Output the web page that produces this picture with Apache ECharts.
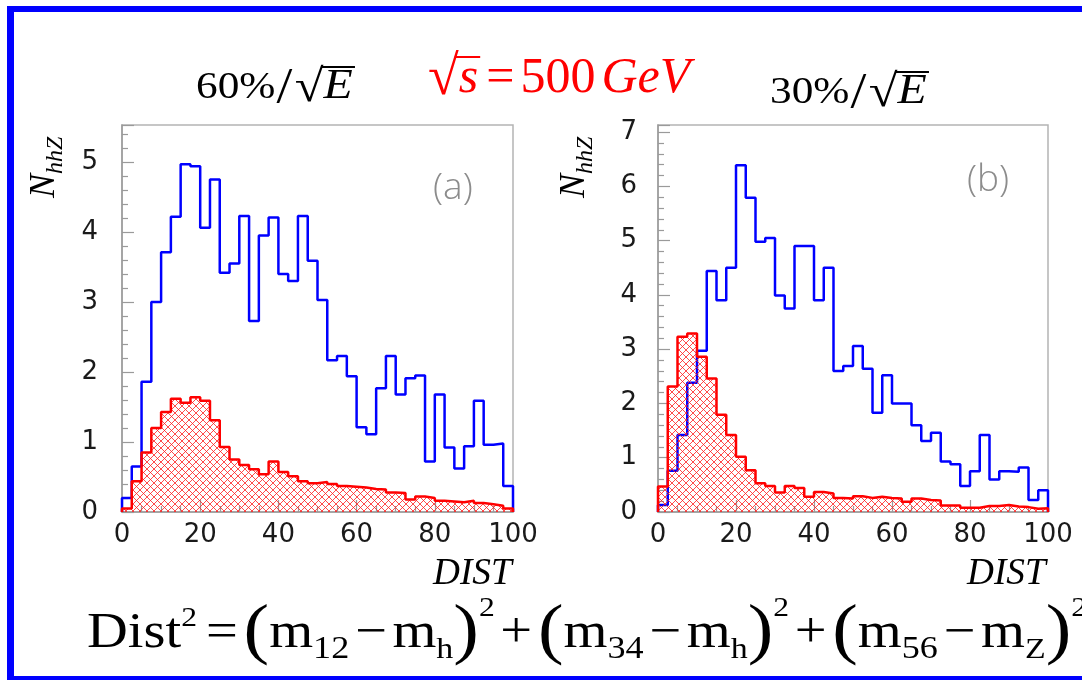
<!DOCTYPE html>
<html><head><meta charset="utf-8">
<script src="https://cdn.jsdelivr.net/npm/echarts@6/dist/echarts.min.js"></script>
<style>html,body{margin:0;padding:0;background:#fff}#c{width:1082px;height:681px}</style>
</head><body><div id="c"></div>
<script>
// ---- data ----
const BIN_WIDTH = 2.5;            // DIST bin width (40 bins, 0..100)
const X_MIN = 0, X_MAX = 100, X_INTERVAL = 20;
const leftBlue = [0.20,0.65,1.86,3.00,3.71,4.22,4.97,4.94,4.06,4.75,3.42,3.55,4.23,2.73,3.95,4.21,3.40,3.30,4.23,3.59,3.03,2.17,2.23,1.94,1.21,1.11,1.77,2.23,1.68,1.91,1.95,0.72,1.68,0.92,0.62,0.94,1.59,0.96,0.98,0.37];
const leftRed  = [0.05,0.44,0.85,1.20,1.43,1.62,1.56,1.64,1.59,1.31,0.93,0.75,0.67,0.61,0.54,0.72,0.57,0.51,0.44,0.41,0.43,0.40,0.37,0.36,0.35,0.33,0.32,0.28,0.27,0.18,0.22,0.20,0.16,0.15,0.14,0.16,0.13,0.11,0.09,0.05];
const rightBlue = [0.13,0.76,1.42,2.38,2.97,4.44,3.90,4.50,6.39,5.79,4.98,5.05,3.99,3.75,4.90,4.90,3.90,4.50,2.60,2.69,3.06,2.64,1.83,2.52,2.00,2.00,1.60,1.31,1.46,0.93,0.88,0.48,0.75,1.42,0.60,0.75,0.74,0.82,0.22,0.40];
const rightRed  = [0.47,2.31,3.23,3.29,2.86,2.46,1.79,1.42,1.02,0.77,0.53,0.48,0.36,0.48,0.44,0.28,0.37,0.34,0.26,0.25,0.29,0.26,0.28,0.26,0.25,0.19,0.25,0.22,0.21,0.12,0.12,0.08,0.08,0.11,0.11,0.13,0.10,0.09,0.06,0.07];
const leftYMax = 5.53, rightYMax = 7.13;
const panelTags = ['(a)', '(b)'];
const xName = 'DIST';

// ---- helpers ----
function histPoints(vals) {
  const pts = [[X_MIN, 0]];
  vals.forEach((v, i) => pts.push([X_MIN + i * BIN_WIDTH, v]));
  pts.push([X_MAX, 0]);
  return pts;
}
const hatch = document.createElement('canvas');
hatch.width = 7; hatch.height = 7;
(function () {
  const c = hatch.getContext('2d');
  c.strokeStyle = 'rgba(255,30,30,0.8)';
  c.lineWidth = 1;
  c.beginPath();
  c.moveTo(-1, -1); c.lineTo(8, 8);
  c.moveTo(-1, 8); c.lineTo(8, -1);
  c.stroke();
})();

const SERIF = '"Liberation Serif", "DejaVu Serif", serif';
const SANS = '"DejaVu Sans", sans-serif';
const mctx = document.createElement('canvas').getContext('2d');
function runGroup(x0, y0, runs, opts) {
  opts = opts || {};
  let x = 0; const children = [];
  runs.forEach(r => {
    const font = (r.it ? 'italic ' : '') + r.s + 'px ' + (r.fam || SERIF);
    mctx.font = font;
    const w = mctx.measureText(r.t).width;
    children.push({type: 'text', style: {text: r.t, x: x, y: (r.dy || 0) - 0.33 * r.s, font: font,
      fill: r.fill || opts.fill || '#000', textAlign: 'left', textVerticalAlign: 'middle', verticalAlign: 'middle'}});
    r.x = x; r.w = w;
    x += w + (r.gap || 0);
  });
  (opts.extra || []).forEach(f => children.push(f(runs)));
  return {type: 'group', x: x0, y: y0, scaleX: opts.sx || 1, scaleY: opts.sy || 1, rotation: opts.rot || 0, children};
}
function overline(idx, y, color, pad) {
  return runs => ({type: 'line', shape: {x1: runs[idx].x - (pad || 0), y1: y, x2: runs[idx].x + runs[idx].w + 2, y2: y},
    style: {stroke: color || '#000', lineWidth: 2}});
}

function resTitle(x0, y0, pct) {
  return runGroup(x0, y0, [
    {t: pct, s: 38, gap: 1}, {t: '/', s: 50, dy: 4, gap: 2}, {t: '√', s: 46, dy: 3}, {t: 'E', s: 42, it: true}
  ], {sx: 1.14, extra: [overline(3, -34, '#000', 2)]});
}

const G = 5;
const formulaRuns = [
  {t: 'Dist', s: 50}, {t: '2', s: 28, dy: -22, gap: 8}, {t: '=', s: 50, gap: G},
  {t: '(', s: 68, dy: 6}, {t: 'm', s: 50}, {t: '12', s: 32, dy: 10, gap: G}, {t: '−', s: 50, gap: G}, {t: 'm', s: 50}, {t: 'h', s: 30, dy: 10}, {t: ')', s: 68, dy: 6}, {t: '2', s: 28, dy: -32, gap: G},
  {t: '+', s: 50, gap: G},
  {t: '(', s: 68, dy: 6}, {t: 'm', s: 50}, {t: '34', s: 32, dy: 10, gap: G}, {t: '−', s: 50, gap: G}, {t: 'm', s: 50}, {t: 'h', s: 30, dy: 10}, {t: ')', s: 68, dy: 6}, {t: '2', s: 28, dy: -32, gap: G},
  {t: '+', s: 50, gap: G},
  {t: '(', s: 68, dy: 6}, {t: 'm', s: 50}, {t: '56', s: 32, dy: 10, gap: G}, {t: '−', s: 50, gap: G}, {t: 'm', s: 50}, {t: 'Z', s: 30, dy: 10}, {t: ')', s: 68, dy: 6}, {t: '2', s: 28, dy: -32}
];

function nLabel(x0, y0) {
  return runGroup(x0, y0, [{t: 'N', s: 36, it: true}, {t: 'hhZ', s: 24, it: true, dy: 8}], {rot: Math.PI / 2});
}

const axisCommon = {
  axisLine: {show: true, lineStyle: {color: '#9a9a9a', width: 1.5}},
  splitLine: {show: false},
};
function xAxis(gi) {
  return Object.assign({}, axisCommon, {
    type: 'value', gridIndex: gi, min: X_MIN, max: X_MAX, interval: X_INTERVAL,
    axisTick: {show: true, inside: true, length: 12, lineStyle: {color: '#9a9a9a', width: 1.2}},
    minorTick: {show: true, splitNumber: 4, length: 6, lineStyle: {color: '#9a9a9a', width: 1.2}},
    axisLabel: {fontSize: 26, fontFamily: SANS, color: '#1a1a1a', margin: 10}
  });
}
function yAxis(gi, max, margin) {
  return Object.assign({}, axisCommon, {
    type: 'value', gridIndex: gi, min: 0, max: max, interval: 1,
    axisTick: {show: true, inside: true, length: 12, lineStyle: {color: '#9a9a9a', width: 1.2}},
    minorTick: {show: true, splitNumber: 5, length: 6, lineStyle: {color: '#9a9a9a', width: 1.2}},
    axisLabel: {fontSize: 26, fontFamily: SANS, color: '#1a1a1a', margin: margin,
      formatter: v => (Math.abs(v - Math.round(v)) < 1e-6 ? String(Math.round(v)) : '')}
  });
}
function blueSeries(gi, vals) {
  return {type: 'line', xAxisIndex: gi, yAxisIndex: gi, step: 'end', symbol: 'none', data: histPoints(vals),
    lineStyle: {color: '#0000ff', width: 2.5}, z: 2, animation: false};
}
function redSeries(gi, vals) {
  return {type: 'line', xAxisIndex: gi, yAxisIndex: gi, step: 'end', symbol: 'none', data: histPoints(vals),
    lineStyle: {color: '#ff0000', width: 2.5}, areaStyle: {color: {image: hatch, repeat: 'repeat'}, opacity: 1},
    z: 3, animation: false};
}

const BLUE = '#0000ff';
const option = {
  backgroundColor: '#ffffff',
  animation: false,
  grid: [
    {left: 122, top: 125, width: 391, height: 387, show: true, borderColor: '#b4b4b4', borderWidth: 1.5, backgroundColor: 'transparent'},
    {left: 658, top: 125, width: 390, height: 387, show: true, borderColor: '#b4b4b4', borderWidth: 1.5, backgroundColor: 'transparent'}
  ],
  xAxis: [xAxis(0), xAxis(1)],
  yAxis: [yAxis(0, leftYMax, 24), yAxis(1, rightYMax, 21)],
  series: [blueSeries(0, leftBlue), redSeries(0, leftRed), blueSeries(1, rightBlue), redSeries(1, rightRed)],
  graphic: [
    {type: 'rect', shape: {x: 7, y: 6, width: 1075, height: 6}, style: {fill: BLUE}},
    {type: 'rect', shape: {x: 7, y: 6, width: 7, height: 674}, style: {fill: BLUE}},
    {type: 'rect', shape: {x: 7, y: 676, width: 1075, height: 4}, style: {fill: BLUE}},
    resTitle(196, 101, '60%'),
    resTitle(770, 106, '30%'),
    runGroup(428, 95, [
      {t: '√', s: 56, dy: 3}, {t: 's', s: 50, it: true, gap: 8}, {t: '=', s: 50, gap: 6}, {t: '500', s: 50, gap: 6}, {t: 'GeV', s: 50, it: true}
    ], {fill: '#ff0000', extra: [overline(1, -38, '#ff0000', 4)]}),
    nLabel(56, 198),
    nLabel(586, 198),
    {type: 'text', style: {text: panelTags[0], x: 433, y: 188, font: '300 37px "Open Sans", sans-serif', fill: '#8c8c8c', textVerticalAlign: 'middle', verticalAlign: 'middle'}},
    {type: 'text', style: {text: panelTags[1], x: 967, y: 180, font: '300 37px "Open Sans", sans-serif', fill: '#8c8c8c', textVerticalAlign: 'middle', verticalAlign: 'middle'}},
    runGroup(433, 587, [{t: xName, s: 38, it: true}], {sx: 0.98}),
    runGroup(967, 587, [{t: xName, s: 38, it: true}], {sx: 0.98}),
    runGroup(87, 650, formulaRuns, {sx: 1.13})
  ]
};
const chart = echarts.init(document.getElementById('c'), null, {renderer: 'canvas'});
chart.setOption(option);
</script>
</body></html>
